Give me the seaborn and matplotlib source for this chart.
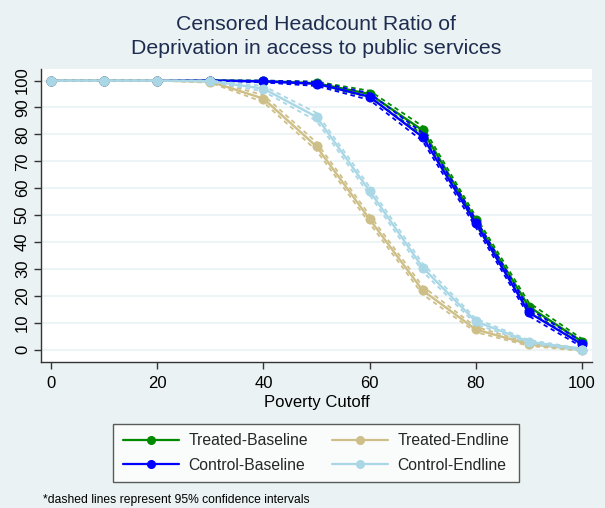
import matplotlib
matplotlib.use("Agg")
import matplotlib.pyplot as plt
from matplotlib.lines import Line2D
import numpy as np
import pandas as pd
import seaborn as sns

# Poverty cutoffs (x axis)
cutoffs = [0, 10, 20, 30, 40, 50, 60, 70, 80, 90, 100]

# Censored headcount ratio (%) by group
treated_baseline = [100, 100, 100, 100, 99.8, 99.0, 95.0, 81.5, 48.0, 16.0, 3.0]
control_baseline = [100, 100, 100, 100, 99.7, 98.8, 94.0, 79.0, 47.0, 13.8, 2.0]
treated_endline = [100, 100, 100, 99.6, 93.3, 75.5, 48.5, 22.0, 7.5, 2.0, 0.0]
control_endline = [100, 100, 100, 99.8, 97.0, 86.5, 59.0, 30.5, 10.5, 3.0, 0.0]

# 95% confidence bounds
treated_baseline_lo = [100, 100, 100, 100, 99.5, 98.3, 93.8, 80.0, 46.5, 14.5, 2.0]
treated_baseline_hi = [100, 100, 100, 100, 100, 99.6, 96.2, 83.0, 49.5, 17.5, 4.0]
control_baseline_lo = [100, 100, 100, 100, 99.3, 98.0, 92.8, 77.5, 45.5, 12.5, 1.0]
control_baseline_hi = [100, 100, 100, 100, 100, 99.5, 95.3, 80.5, 48.5, 15.2, 3.0]
treated_endline_lo = [100, 100, 100, 99.2, 92.0, 74.0, 47.0, 20.5, 6.5, 1.4, -0.5]
treated_endline_hi = [100, 100, 100, 100, 94.6, 77.0, 50.0, 23.5, 8.5, 2.6, 0.5]
control_endline_lo = [100, 100, 100, 99.5, 96.0, 85.0, 57.5, 29.0, 9.5, 2.4, -0.4]
control_endline_hi = [100, 100, 100, 100, 98.0, 88.0, 60.5, 32.0, 11.5, 3.6, 0.4]

groups = ["Treated-Baseline", "Control-Baseline", "Treated-Endline", "Control-Endline"]
colors = ["#008a00", "#0000ff", "#cdbf87", "#a9d7e6"]
estimates = [treated_baseline, control_baseline, treated_endline, control_endline]
lowers = [treated_baseline_lo, control_baseline_lo, treated_endline_lo, control_endline_lo]
uppers = [treated_baseline_hi, control_baseline_hi, treated_endline_hi, control_endline_hi]

bg = "#eaf2f3"
sns.set_theme(style="white")
plt.rcParams["font.family"] = ["Liberation Sans", "DejaVu Sans"]

fig = plt.figure(figsize=(6.05, 5.08), dpi=100, facecolor=bg)
ax = fig.add_axes([41 / 605, 1 - 362 / 508, 551 / 605, 293 / 508])
ax.set_facecolor("white")

# horizontal grid lines, below everything
for yv in range(0, 101, 10):
    ax.axhline(yv, color=bg, lw=1.2, zorder=0)

for i in [0, 1, 2, 3]:
    col = colors[i]
    for bound in (lowers[i], uppers[i]):
        sns.lineplot(x=cutoffs, y=bound, ax=ax, color=col, lw=1.3,
                     linestyle=(0, (2.5, 2)), zorder=2 + i)
    sns.lineplot(x=cutoffs, y=estimates[i], ax=ax, color=col, lw=1.7,
                 marker="o", markersize=6.5, markeredgecolor=col,
                 zorder=3 + i)

ax.set_xlim(-1.9, 101.9)
ax.set_ylim(-4.6, 104.3)
ax.set_xticks(range(0, 101, 20))
ax.set_yticks(range(0, 101, 10))
ax.set_yticklabels([str(v) for v in range(0, 101, 10)], rotation=90, va="center")
ax.tick_params(axis="both", which="both", direction="out", length=5, width=1,
               color="#333333", labelsize=12, labelcolor="black",
               left=True, bottom=True)
ax.tick_params(axis="x", pad=5)
ax.tick_params(axis="y", pad=3)
for s in ["top", "right"]:
    ax.spines[s].set_visible(False)
for s in ["left", "bottom"]:
    ax.spines[s].set_color("#333333")
    ax.spines[s].set_linewidth(1)
ax.set_xlabel("Poverty Cutoff", fontsize=12, labelpad=3, color="black")
ax.set_ylabel("")

fig.text(0.522, 1 - 24 / 508, "Censored Headcount Ratio of", ha="center",
         va="center", fontsize=15.3, color="#1e2c50")
fig.text(0.522, 1 - 49 / 508, "Deprivation in access to public services",
         ha="center", va="center", fontsize=15.3, color="#1e2c50")

handles = [Line2D([0], [0], color=c, lw=1.6, marker="o", markersize=5.5,
                  markeredgecolor=c) for c in colors]
leg = fig.legend(handles, groups, ncol=2, loc="center",
                 bbox_to_anchor=(316 / 605, 1 - 453 / 508), frameon=True,
                 fontsize=11.3, handlelength=3.6, handletextpad=0.6,
                 columnspacing=1.5, borderpad=0.6, labelspacing=0.62,
                 fancybox=False)
leg.get_frame().set_edgecolor("#333333")
leg.get_frame().set_linewidth(1)
leg.get_frame().set_facecolor("white")

fig.text(43 / 605, 1 - 500 / 508, "*dashed lines represent 95% confidence intervals",
         ha="left", va="center", fontsize=8.7, color="black")

fig.savefig("out.png", dpi=100, facecolor=bg)
